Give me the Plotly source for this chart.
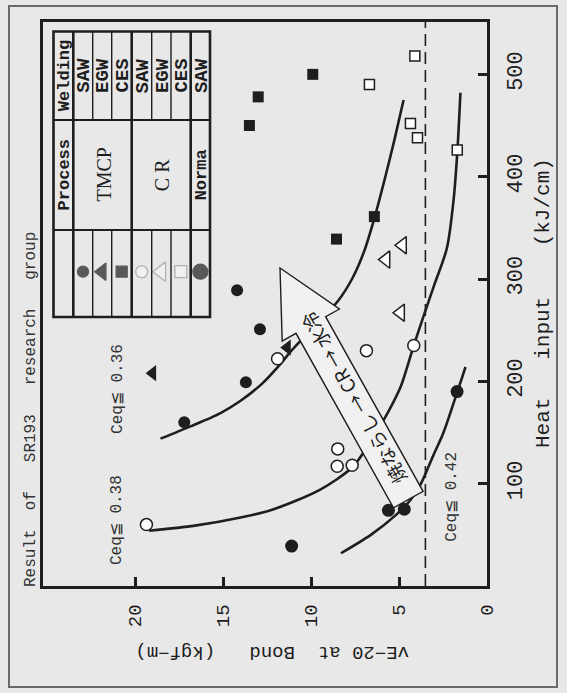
import plotly.graph_objects as go

# ---------------- data: heat input (kJ/cm) vs vE-20 at bond (kgf-m) ----------------
tmcp_saw_heat = [289, 251, 199, 160]
tmcp_saw_ve = [14.2, 12.9, 13.7, 17.2]
tmcp_egw_heat = [208, 233]
tmcp_egw_ve = [19.0, 11.35]
tmcp_ces_heat = [500, 478, 450, 361, 339]
tmcp_ces_ve = [9.9, 13.0, 13.5, 6.4, 8.55]
cr_saw_heat = [60, 222, 230, 235, 134, 117, 118]
cr_saw_ve = [19.35, 11.9, 6.85, 4.16, 8.48, 8.51, 7.66]
cr_egw_heat = [333, 319, 267]
cr_egw_ve = [4.8, 5.74, 4.91]
cr_ces_heat = [518, 490, 452, 438, 426]
cr_ces_ve = [4.1, 6.68, 4.35, 3.95, 1.69]
norm_saw_heat = [190, 74, 75, 39]
norm_saw_ve = [1.7, 5.6, 4.7, 11.1]

curve036_heat = [144, 156, 169, 181, 198, 217, 229, 253, 278, 301, 328, 360, 397, 436, 475]
curve036_ve = [18.55, 16.85, 15.14, 14.0, 12.76, 11.73, 11.16, 9.86, 8.49, 7.64, 6.96, 6.39, 5.82, 5.26, 4.74]
curve038_heat = [54, 59, 67, 74, 94, 116, 136, 169, 195, 234, 265, 294, 330, 377, 426, 482]
curve038_ve = [19.2, 16.6, 14.0, 12.3, 9.5, 7.65, 6.8, 5.65, 4.9, 4.18, 3.58, 3.0, 2.28, 1.9, 1.68, 1.51]
curve042_heat = [32, 50, 69, 84, 99, 128, 150, 190, 214]
curve042_ve = [8.3, 6.6, 5.2, 4.35, 3.78, 3.04, 2.47, 1.68, 1.22]

ve_requirement = 3.5
ve_ticks = [0, 5, 10, 15, 20]
heat_ticks = [100, 200, 300, 400, 500]

ceq_labels = ["Ceq\u2266 0.36", "Ceq\u2266 0.38", "Ceq\u2266 0.42"]
ceq_label_ve = [21.0, 21.05, 2.0]
ceq_label_heat = [193, 64, 87]

process_labels = ["TMCP", "C R", "Norma"]
welding_labels = ["SAW", "EGW", "CES", "SAW", "EGW", "CES", "SAW"]

# ---------------- geometry ----------------
W, H = 567, 693
L, R, T, B = 43, 80, 22, 107
plot_w = W - L - R
plot_h = H - T - B
PX_PER_VE = 17.6
PX_PER_HEAT = 1.0233
ve_max = plot_w / PX_PER_VE
heat_max = plot_h / PX_PER_HEAT


def xp(px):
    return (px - L) / plot_w


def yp(py):
    return (H - B - py) / plot_h


def dve(px):
    return (L + plot_w - px) / PX_PER_VE


def dheat(py):
    return (H - B - py) / PX_PER_HEAT


INK = "#1e1e1e"
BG = "#e8e8e8"
MONO = "Liberation Mono"

fig = go.Figure()

for hx, vy in [(curve036_heat, curve036_ve), (curve038_heat, curve038_ve), (curve042_heat, curve042_ve)]:
    fig.add_trace(go.Scatter(x=vy, y=hx, mode="lines", line=dict(color=INK, width=2.6, shape="spline", smoothing=0.8),
                             hoverinfo="skip", showlegend=False))


def add_markers(heat, ve, symbol, size, fill, line_w):
    fig.add_trace(go.Scatter(x=ve, y=heat, mode="markers",
                             marker=dict(symbol=symbol, size=size, color=fill, line=dict(color=INK, width=line_w)),
                             showlegend=False))


add_markers(tmcp_saw_heat, tmcp_saw_ve, "circle", 12, INK, 0)
add_markers(norm_saw_heat, norm_saw_ve, "circle", 13, INK, 0)
add_markers(tmcp_egw_heat, tmcp_egw_ve, "triangle-left", 14, INK, 0)
add_markers(tmcp_ces_heat, tmcp_ces_ve, "square", 11, INK, 0)
add_markers(cr_saw_heat, cr_saw_ve, "circle", 12, "white", 1.5)
add_markers(cr_egw_heat, cr_egw_ve, "triangle-left", 15, "white", 1.5)
add_markers(cr_ces_heat, cr_ces_ve, "square", 10, "white", 1.5)

shapes = []
annotations = []


def note(x, y, text, angle, font, ref="paper"):
    annotations.append(dict(x=x, y=y, xref=ref if ref == "paper" else "x", yref=ref if ref == "paper" else "y",
                            showarrow=False, text=text, textangle=angle, font=font,
                            xanchor="center", yanchor="middle"))


# requirement line
shapes.append(dict(type="line", xref="x", yref="y", x0=ve_requirement, x1=ve_requirement, y0=0, y1=heat_max,
                   line=dict(color=INK, width=1.6, dash="12px,6px"), layer="below"))

# big hollow arrow (Normalizing -> CR -> water cooling)
arrow_px = [(280, 268), (339.4, 309), (325.6, 316.7), (423.1, 491.3), (393.5, 507.9), (296, 333.3), (282.2, 341)]
path = "M " + " L ".join(f"{dve(a):.3f},{dheat(b):.3f}" for a, b in arrow_px) + " Z"
shapes.append(dict(type="path", xref="x", yref="y", path=path, fillcolor="#f1f1f1",
                   line=dict(color=INK, width=1.4), layer="above"))
note(dve(353), dheat(399), "焼ならし\u00a0→\u00a0CR\u00a0→\u00a0水冷", -119.2,
     dict(family="Noto Sans CJK JP", size=19, color=INK), ref="data")

# Ceq labels
for txt, vx, hy in zip(ceq_labels, ceq_label_ve, ceq_label_heat):
    note(vx, hy, txt, -90, dict(family=MONO, size=16, color="#333"), ref="data")

# ---------------- legend table ----------------
tx0, tx1 = 53.5, 210
ty0, ty_w, ty_p, ty1 = 31.5, 120, 230, 317
strips = [53.5, 73.3, 92.7, 111.7, 131.7, 151.7, 171, 190.7, 210]
shapes.append(dict(type="rect", xref="paper", yref="paper", x0=xp(tx0), x1=xp(tx1), y0=yp(ty1), y1=yp(ty0),
                   line=dict(color=INK, width=2.6), fillcolor="rgba(0,0,0,0)", layer="above"))
for yy in (ty_w, ty_p):
    shapes.append(dict(type="line", xref="paper", yref="paper", x0=xp(tx0), x1=xp(tx1), y0=yp(yy), y1=yp(yy),
                       line=dict(color=INK, width=2)))
for i, sx in enumerate(strips[1:-1], start=1):
    if i in (1, 4, 7):
        shapes.append(dict(type="line", xref="paper", yref="paper", x0=xp(sx), x1=xp(sx), y0=yp(ty0), y1=yp(ty1),
                           line=dict(color=INK, width=2.6)))
    else:
        for a, b in ((ty0, ty_w), (ty_p, ty1)):
            shapes.append(dict(type="line", xref="paper", yref="paper", x0=xp(sx), x1=xp(sx), y0=yp(a), y1=yp(b),
                               line=dict(color=INK, width=1.4)))

centers = [(strips[i] + strips[i + 1]) / 2 for i in range(len(strips) - 1)]
mid_w = (ty0 + ty_w) / 2
mid_p = (ty_w + ty_p) / 2
note(xp(centers[0] + 1), yp(mid_w), "<b>Welding</b>", -90, dict(family=MONO, size=17, color=INK))
note(xp(centers[0] + 1), yp(mid_p), "<b>Process</b>", -90, dict(family=MONO, size=17, color=INK))
for c, lab in zip(centers[1:], welding_labels):
    note(xp(c + 1), yp(mid_w), "<b>" + lab + "</b>", -90, dict(family=MONO, size=19, color=INK))
proc_centers = [(strips[1] + strips[4]) / 2, (strips[4] + strips[7]) / 2, centers[7]]
note(xp(proc_centers[0] + 1), yp(mid_p), process_labels[0], -90, dict(family="Liberation Serif", size=20, color=INK))
note(xp(proc_centers[1] + 1), yp(mid_p), process_labels[1], -90, dict(family="Liberation Serif", size=20, color=INK))
note(xp(proc_centers[2] + 1), yp(mid_p), "<b>" + process_labels[2] + "</b>", -90, dict(family=MONO, size=17, color=INK))

leg_y = 271.7
leg_x = centers[1:]
fig.add_trace(go.Scatter(
    x=[dve(c) for c in leg_x], y=[dheat(leg_y)] * len(leg_x), mode="markers", showlegend=False, hoverinfo="skip",
    marker=dict(symbol=["circle", "triangle-left", "square", "circle", "triangle-left", "square", "circle"],
                size=[11, 15, 11, 12, 17, 12, 15],
                color=[INK, INK, INK, "#f4f4f4", "#f4f4f4", "#f4f4f4", INK],
                line=dict(color=["#1e1e1e", "#1e1e1e", "#1e1e1e", "#9a9a9a", "#9a9a9a", "#9a9a9a", "#1e1e1e"], width=1.3))))

# ---------------- outer texts ----------------
note(xp(31), yp(410), "Result\u00a0\u00a0of\u00a0\u00a0\u00a0SR193\u00a0\u00a0\u00a0research\u00a0\u00a0\u00a0group", -90,
     dict(family=MONO, size=16, color="#333"))
note(xp(543), yp(303), "Heat\u00a0\u00a0\u00a0input\u00a0\u00a0\u00a0\u00a0(kJ/cm)", -90,
     dict(family=MONO, size=21, color=INK))
note(xp(272), yp(652), "vE\u221220\u00a0at\u00a0\u00a0Bond\u00a0\u00a0\u00a0(kgf\u2212m)", 180,
     dict(family=MONO, size=19, color=INK))

# outer frame of the figure
shapes.append(dict(type="rect", xref="paper", yref="paper", x0=xp(9), x1=xp(557), y0=yp(687), y1=yp(6),
                   line=dict(color="#6a6a6a", width=2), fillcolor="rgba(0,0,0,0)"))

axis_common = dict(showgrid=False, zeroline=False, showline=True, linewidth=2.7, linecolor=INK, mirror=True,
                   ticks="inside", ticklen=9, tickwidth=2.5, tickcolor=INK, tickangle=-90)

fig.update_layout(
    width=W, height=H, margin=dict(l=L, r=R, t=T, b=B),
    paper_bgcolor=BG, plot_bgcolor=BG,
    xaxis=dict(range=[ve_max, 0], tickvals=ve_ticks, ticktext=[str(v) for v in ve_ticks],
               tickfont=dict(family=MONO, size=19, color=INK), ticklabelstandoff=8, **axis_common),
    yaxis=dict(range=[0, heat_max], side="right", tickvals=heat_ticks, ticktext=[str(v) for v in heat_ticks],
               tickfont=dict(family=MONO, size=22, color=INK), ticklabelstandoff=6, **axis_common),
    shapes=shapes, annotations=annotations, showlegend=False,
)

fig.write_html("out.html", config={"displayModeBar": False},
               post_script="document.body.style.margin='0px';document.body.style.overflow='hidden';")
